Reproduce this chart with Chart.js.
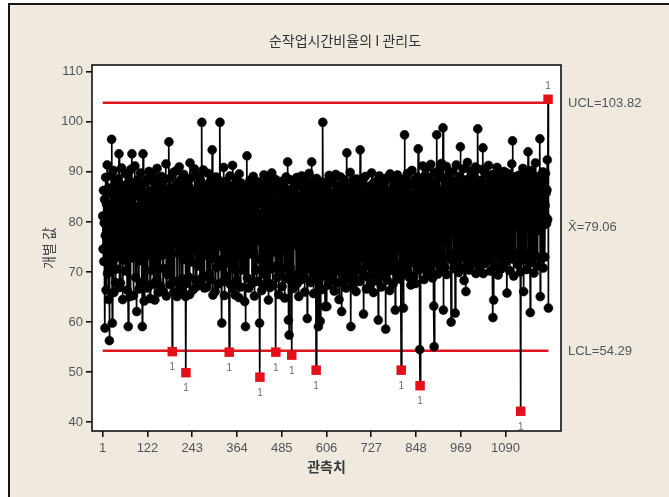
<!DOCTYPE html>
<html>
<head>
<meta charset="utf-8">
<script src="https://cdn.jsdelivr.net/npm/chart.js@4.4.1/dist/chart.umd.min.js"></script>
<style>
  html, body { margin: 0; padding: 0; background: #ffffff; }
  #wrap { position: absolute; left: 0; top: 0; width: 669px; height: 497px; }
  canvas { display: block; }
</style>
</head>
<body>
<div id="wrap"><canvas id="ichart" width="669" height="497"></canvas></div>
<script>
// Texts
const chartTitle = '순작업시간비율의 I 관리도';
const xAxisTitle = '관측치';
const yAxisTitle = '개별 값';

// Axis ticks
const xTickValues = [1, 122, 243, 364, 485, 606, 727, 848, 969, 1090];
const yTickValues = [40, 50, 60, 70, 80, 90, 100, 110];

// Control limits
const upperLimit = 103.82;
const centerValue = 79.06;
const lowerLimit = 54.29;
const limitLabels = ['UCL=103.82', 'X\u0304=79.06', 'LCL=54.29'];

// Individual observations, in order (20 per row)
const individualValues = [
  81.2, 74.6, 86.3, 72.1, 79.8, 84.5, 58.8, 77.3, 88.9, 66.4, 83.6, 75.2, 91.4, 69.7, 80.9, 86.8, 64.5, 82.4, 56.3, 78.1,
  76.9, 85.7, 71.3, 89.2, 96.5, 74.8, 59.8, 82.6, 77.4, 90.3, 65.9, 84.1, 79.5, 72.7, 87.6, 67.9, 81.8, 70.6, 86.4, 78.2,
  83.4, 73.1, 88.7, 76.5, 93.6, 66.9, 80.3, 85.2, 67.8, 82.9, 77.6, 90.8, 74.2, 84.7, 64.5, 79.1, 87.3, 72.4, 81.6, 76.8,
  85.9, 70.2, 78.7, 89.6, 74.3, 82.1, 66.4, 86.5, 77.9, 59.1, 80.6, 88.2, 73.6, 83.8, 65.1, 79.4, 90.5, 75.7, 84.3, 93.6,
  72.8, 81.4, 87.1, 65.3, 79.9, 85.4, 74.5, 91.2, 77.2, 68.9, 83.1, 76.3, 62.1, 82.7, 88.4, 73.9, 80.2, 86.1, 66.6, 78.6,
  84.9, 75.4, 89.8, 72.3, 81.1, 67.8, 86.9, 59.1, 80.7, 93.6, 74.1, 83.3, 64.2, 87.8, 78.9, 73.2, 85.6, 79.6, 67.5, 82.3,
  76.1, 88.6, 66.8, 84.2, 79.3, 90.1, 73.4, 81.9, 64.7, 86.2, 77.1, 83.9, 70.3, 89.4, 75.3, 80.8, 85.1, 67.6, 87.9, 78.4,
  82.5, 64.4, 79.2, 88.1, 74.7, 84.6, 68.4, 90.7, 76.6, 81.3, 65.9, 86.7, 78.3, 73.8, 85.8, 80.1, 67.2, 83.5, 77.7, 89.1,
  73.3, 81.7, 87.4, 66.1, 82.8, 70.7, 88.3, 79.7, 74.4, 84.8, 78.8, 91.6, 65.2, 80.4, 86.6, 76.4, 83.2, 69.4, 85.3, 96.0,
  77.5, 83.7, 67.5, 88.8, 79.0, 74.9, 86.0, 80.5, 54.1, 82.0, 76.7, 89.9, 66.0, 84.4, 68.1, 81.5, 87.2, 75.6, 90.2, 78.5,
  84.0, 65.1, 80.0, 87.7, 73.7, 82.2, 77.0, 91.0, 67.0, 85.5, 79.8, 74.0, 88.5, 66.2, 83.0, 68.6, 86.8, 81.0, 72.5, 89.5,
  75.0, 82.4, 78.0, 86.3, 65.1, 49.9, 79.5, 84.9, 67.7, 88.0, 76.0, 83.6, 69.0, 87.0, 80.3, 65.5, 91.8, 77.3, 85.0, 72.0,
  81.2, 88.9, 74.3, 80.6, 85.7, 66.5, 83.4, 78.9, 90.6, 75.5, 82.1, 68.4, 86.4, 79.1, 67.1, 89.3, 77.5, 84.2, 71.2, 87.5,
  76.4, 83.0, 80.9, 67.8, 88.2, 74.6, 85.2, 79.3, 99.9, 68.9, 81.6, 77.0, 90.4, 75.8, 84.5, 66.8, 87.1, 78.2, 82.8, 73.4,
  86.1, 79.9, 67.0, 84.0, 77.7, 89.7, 74.0, 82.6, 69.6, 87.9, 80.1, 68.4, 85.9, 72.7, 88.6, 78.6, 94.4, 76.1, 65.4, 83.2,
  79.4, 87.3, 73.7, 84.1, 66.1, 81.8, 89.0, 76.9, 83.5, 70.9, 86.5, 80.0, 67.6, 88.4, 77.2, 82.3, 75.1, 99.9, 78.8, 85.4,
  72.4, 80.7, 59.8, 86.9, 77.4, 83.8, 68.1, 90.9, 79.2, 65.3, 84.7, 76.5, 88.1, 81.4, 69.2, 87.6, 78.3, 71.9, 85.6, 80.2,
  83.1, 76.8, 54.0, 82.5, 89.2, 67.5, 80.4, 86.2, 71.4, 84.3, 78.1, 91.3, 66.7, 81.9, 70.6, 87.4, 79.6, 73.9, 65.4, 85.1,
  77.9, 88.7, 68.3, 83.9, 79.0, 86.0, 74.2, 81.0, 64.9, 89.6, 76.3, 84.6, 80.8, 67.0, 87.8, 78.4, 82.9, 70.4, 85.8, 75.9,
  81.3, 87.0, 74.8, 79.7, 64.1, 83.7, 59.1, 85.3, 76.6, 82.0, 93.2, 68.8, 80.5, 86.6, 77.8, 66.8, 84.8, 78.0, 88.3, 73.6,
  82.7, 75.3, 86.8, 79.1, 67.8, 84.4, 77.6, 89.1, 73.8, 81.5, 65.2, 85.0, 78.5, 83.3, 70.4, 87.2, 80.6, 68.1, 86.3, 76.7,
  84.1, 78.2, 88.0, 72.6, 59.8, 49.0, 81.7, 76.1, 85.5, 79.4, 66.3, 83.6, 87.5, 70.7, 80.9, 77.3, 89.4, 67.5, 82.4, 75.6,
  86.7, 79.8, 69.3, 84.9, 77.1, 88.8, 68.0, 81.2, 64.4, 85.7, 78.7, 83.0, 66.9, 87.3, 76.0, 80.3, 70.6, 89.8, 79.3, 83.8,
  67.3, 84.2, 77.9, 86.9, 74.0, 82.1, 79.6, 88.5, 54.0, 80.8, 71.2, 85.4, 68.9, 87.7, 78.0, 83.4, 65.5, 81.9, 76.4, 86.0,
  80.0, 69.7, 88.1, 77.6, 82.8, 67.1, 85.1, 79.0, 74.3, 87.0, 76.9, 83.1, 64.8, 84.7, 80.4, 71.0, 89.0, 78.3, 68.7, 85.9,
  92.0, 77.0, 60.4, 83.5, 57.4, 79.7, 86.4, 70.9, 81.1, 88.4, 68.2, 53.4, 80.2, 85.6, 76.2, 82.6, 66.7, 87.9, 78.6, 84.0,
  75.3, 81.4, 86.8, 69.4, 79.2, 88.9, 67.7, 83.9, 77.4, 85.2, 65.1, 82.3, 79.9, 70.1, 87.4, 76.8, 84.3, 68.5, 89.2, 80.7,
  78.1, 84.8, 69.0, 87.1, 76.5, 81.6, 66.0, 85.8, 79.5, 83.2, 70.7, 88.2, 77.2, 60.7, 82.9, 86.1, 71.5, 80.1, 89.7, 68.3,
  83.7, 78.8, 86.5, 67.9, 80.5, 92.0, 70.4, 84.5, 77.7, 81.8, 65.7, 87.6, 79.1, 71.8, 85.3, 69.1, 82.5, 50.4, 88.7, 76.3,
  81.0, 86.2, 70.2, 59.1, 83.4, 77.5, 88.1, 68.8, 60.2, 80.9, 85.0, 76.7, 82.2, 66.5, 87.2, 99.9, 78.4, 84.6, 69.8, 81.5,
  86.9, 63.1, 79.8, 84.3, 71.9, 88.0, 63.1, 82.7, 77.0, 85.5, 67.4, 80.3, 89.3, 70.3, 83.1, 78.9, 87.8, 68.4, 81.7, 76.6,
  84.4, 79.3, 69.5, 88.6, 76.4, 82.4, 66.2, 86.0, 80.5, 71.1, 89.5, 77.8, 83.0, 67.8, 85.9, 79.0, 70.8, 87.3, 81.3, 64.5,
  85.2, 77.4, 82.0, 89.0, 70.0, 80.6, 62.1, 86.6, 78.2, 83.6, 68.0, 87.5, 76.0, 81.1, 88.4, 69.7, 84.7, 79.7, 66.8, 85.6,
  93.8, 78.5, 84.0, 68.7, 80.8, 87.0, 71.7, 82.8, 77.3, 89.9, 70.6, 59.1, 83.3, 79.4, 86.3, 67.3, 81.4, 88.2, 72.2, 84.9,
  69.0, 80.0, 86.7, 77.8, 83.8, 66.1, 88.6, 79.2, 71.3, 85.1, 81.7, 70.5, 87.9, 78.0, 82.6, 68.1, 94.4, 80.7, 72.9, 85.7,
  79.1, 84.2, 70.0, 88.3, 77.5, 61.6, 82.1, 86.4, 69.2, 80.3, 89.1, 72.1, 83.5, 66.6, 85.4, 78.7, 81.9, 71.4, 87.1, 68.9,
  83.9, 77.1, 86.8, 80.2, 67.5, 85.3, 78.3, 89.8, 70.7, 82.0, 72.6, 87.7, 65.9, 84.1, 79.5, 69.6, 88.0, 81.2, 71.8, 86.2,
  78.6, 84.6, 68.2, 87.4, 80.1, 60.4, 83.2, 72.3, 89.2, 70.1, 81.6, 85.8, 77.6, 67.0, 88.5, 79.9, 82.7, 71.2, 86.5, 69.4,
  84.8, 79.0, 87.9, 70.9, 81.3, 58.6, 85.6, 77.2, 83.0, 68.4, 88.9, 80.4, 71.6, 86.1, 78.1, 82.3, 66.3, 89.6, 72.8, 84.3,
  80.9, 70.3, 86.6, 78.4, 83.7, 67.6, 88.4, 76.9, 82.5, 79.6, 85.2, 62.4, 81.8, 87.3, 69.9, 84.0, 77.4, 89.4, 71.0, 82.9,
  86.3, 78.0, 83.4, 68.6, 88.2, 80.6, 71.5, 50.4, 84.5, 79.3, 87.0, 69.5, 82.2, 62.8, 85.9, 77.9, 97.4, 81.5, 70.6, 88.8,
  79.7, 85.0, 72.4, 83.1, 89.7, 70.2, 81.0, 86.9, 78.8, 68.9, 84.9, 80.2, 87.6, 67.4, 82.6, 73.0, 90.3, 71.9, 83.8, 79.4,
  85.4, 69.1, 88.3, 80.8, 72.2, 84.2, 67.7, 87.2, 79.0, 82.9, 71.0, 89.0, 77.7, 94.6, 81.9, 70.4, 86.4, 54.5, 47.3, 83.6,
  78.2, 88.1, 70.8, 84.4, 80.5, 91.2, 72.5, 82.4, 87.5, 68.5, 85.7, 79.2, 89.3, 71.7, 83.1, 81.2, 90.8, 69.8, 86.2, 78.9,
  84.7, 77.8, 88.8, 70.1, 82.8, 86.3, 79.9, 91.5, 71.3, 83.9, 80.0, 87.8, 68.8, 85.5, 78.6, 63.2, 55.1, 84.1, 89.9, 72.7,
  81.7, 87.1, 71.8, 97.4, 79.5, 84.8, 69.6, 88.9, 82.1, 73.6, 90.4, 80.9, 86.0, 70.5, 83.4, 79.1, 91.7, 72.4, 85.3, 81.0,
  98.8, 62.4, 84.6, 78.7, 88.5, 71.0, 82.7, 86.8, 80.3, 91.1, 69.5, 84.0, 79.8, 87.4, 72.9, 83.2, 89.6, 73.3, 85.8, 81.4,
  87.9, 79.4, 60.0, 84.3, 72.3, 90.0, 82.0, 78.5, 86.7, 70.7, 88.2, 80.7, 83.6, 61.8, 85.1, 73.9, 91.4, 81.6, 71.6, 87.0,
  80.1, 86.5, 69.9, 84.9, 79.0, 89.1, 72.8, 95.0, 82.3, 74.3, 87.3, 70.8, 85.0, 80.9, 90.6, 73.5, 83.7, 68.3, 88.4, 79.6,
  85.6, 81.0, 66.1, 87.7, 78.8, 83.3, 91.9, 72.0, 84.5, 80.2, 88.6, 70.4, 82.9, 86.2, 79.3, 90.2, 71.4, 83.9, 81.8, 87.1,
  73.1, 84.2, 89.4, 80.4, 71.9, 86.4, 82.5, 78.9, 91.0, 69.7, 85.2, 81.3, 88.0, 72.6, 98.6, 83.0, 79.7, 87.5, 70.9, 84.6,
  81.9, 88.3, 73.4, 85.4, 80.0, 90.5, 72.2, 83.5, 94.8, 69.7, 86.9, 79.1, 84.7, 89.8, 71.7, 82.4, 87.6, 74.6, 85.9, 80.6,
  86.1, 74.1, 83.8, 91.3, 72.5, 85.0, 80.8, 88.7, 70.2, 84.0, 79.5, 87.2, 82.2, 73.0, 89.5, 60.9, 83.1, 64.4, 86.6, 81.1,
  73.7, 88.0, 82.6, 71.1, 86.3, 80.3, 90.9, 74.4, 84.4, 69.4, 87.8, 81.5, 85.7, 72.8, 89.2, 79.8, 83.3, 70.6, 88.1, 82.0,
  85.3, 79.2, 87.4, 71.3, 83.6, 90.1, 74.0, 84.8, 81.2, 88.9, 72.1, 82.8, 86.0, 65.8, 80.5, 89.7, 73.6, 84.1, 79.9, 87.0,
  70.3, 85.8, 81.7, 88.4, 74.7, 83.1, 91.6, 72.6, 96.2, 80.8, 86.7, 69.2, 84.3, 79.0, 89.0, 82.7, 73.3, 85.6, 80.4, 87.9,
  79.4, 86.2, 71.5, 83.8, 89.3, 73.8, 84.6, 81.4, 88.2, 70.0, 42.2, 85.1, 80.1, 87.5, 72.4, 82.9, 90.7, 74.2, 66.1, 84.8,
  81.8, 87.7, 72.9, 85.2, 79.8, 89.4, 70.5, 83.4, 86.9, 80.0, 94.0, 73.5, 84.2, 88.6, 71.8, 82.3, 61.9, 86.1, 79.3, 90.3,
  72.0, 84.5, 81.1, 88.8, 74.5, 85.9, 69.8, 83.0, 87.3, 80.6, 91.8, 73.2, 84.9, 79.1, 86.8, 71.2, 82.1, 89.1, 80.9, 85.5,
  78.3, 87.4, 96.6, 65.1, 83.7, 80.2, 88.5, 72.7, 85.0, 81.6, 90.0, 70.8, 84.0, 79.4, 87.9, 73.0, 83.3, 89.7, 81.0, 85.8,
  79.7, 86.4, 92.4, 80.5, 104.5, 62.8
];

// Chart data built from the arrays above
const observationPoints = individualValues.map((v, i) => ({ x: i + 1, y: v }));
const outOfControl = observationPoints.filter(p => p.y > upperLimit || p.y < lowerLimit);
const lastObs = individualValues.length;
const isOut = v => v > upperLimit || v < lowerLimit;

const FONT_NUM = '"Liberation Sans", Arial, sans-serif';
const FONT_KR = '"Noto Sans CJK KR", "Noto Sans", sans-serif';

const decorPlugin = {
  id: 'decor',
  beforeDraw(chart) {
    const { ctx, chartArea: a, width, height } = chart;
    ctx.save();
    ctx.fillStyle = '#ffffff';
    ctx.fillRect(0, 0, width, height);
    ctx.fillStyle = '#efe9df';
    ctx.fillRect(9, 4, width - 9, height - 4);
    ctx.strokeStyle = '#151515';
    ctx.lineWidth = 2;
    ctx.beginPath();
    ctx.moveTo(9, height);
    ctx.lineTo(9, 4);
    ctx.lineTo(width, 4);
    ctx.stroke();
    ctx.fillStyle = '#ffffff';
    ctx.fillRect(a.left, a.top, a.right - a.left, a.bottom - a.top);
    ctx.restore();
  },
  afterDatasetsDraw(chart) {
    const { ctx, chartArea: a, scales } = chart;
    ctx.save();
    // test-failure marks next to each out-of-control point
    ctx.fillStyle = '#6a6a6a';
    ctx.font = '10px ' + FONT_NUM;
    ctx.textAlign = 'center';
    ctx.textBaseline = 'middle';
    outOfControl.forEach(p => {
      const px = scales.x.getPixelForValue(p.x);
      const py = scales.y.getPixelForValue(p.y);
      ctx.fillText('1', px, p.y > upperLimit ? py - 13 : py + 16);
    });
    // plot frame
    ctx.strokeStyle = '#111111';
    ctx.lineWidth = 1.6;
    ctx.strokeRect(a.left, a.top, a.right - a.left, a.bottom - a.top);
    ctx.restore();
  },
  afterDraw(chart) {
    const { ctx, scales, chartArea: a } = chart;
    ctx.save();
    ctx.fillStyle = '#333333';
    ctx.textBaseline = 'middle';
    ctx.textAlign = 'center';
    ctx.font = '14px ' + FONT_KR;
    ctx.fillText(chartTitle, 345, 41);
    ctx.fillStyle = '#3a3a3a';
    ctx.font = 'bold 14px ' + FONT_KR;
    ctx.fillText(xAxisTitle, (a.left + a.right) / 2, 467);
    ctx.save();
    ctx.translate(49, 248);
    ctx.rotate(-Math.PI / 2);
    ctx.fillStyle = '#444444';
    ctx.font = '14px ' + FONT_KR;
    ctx.fillText(yAxisTitle, 0, 0);
    ctx.restore();
    // limit labels on the right
    ctx.fillStyle = '#555555';
    ctx.font = '13px ' + FONT_NUM;
    ctx.textAlign = 'left';
    [upperLimit, centerValue, lowerLimit].forEach((v, i) => {
      ctx.fillText(limitLabels[i], a.right + 7, scales.y.getPixelForValue(v) + 1);
    });
    ctx.restore();
  }
};

const lineSet = (value, color, order) => ({
  data: [{ x: 1, y: value }, { x: lastObs, y: value }],
  borderColor: color,
  borderWidth: 2.4,
  pointRadius: 0,
  fill: false,
  order
});

new Chart(document.getElementById('ichart'), {
  type: 'line',
  data: {
    datasets: [
      {
        data: outOfControl,
        showLine: false,
        pointStyle: 'rect',
        pointRadius: 6.7,
        pointBackgroundColor: '#e3101a',
        pointBorderColor: '#e3101a',
        pointBorderWidth: 0,
        order: 0
      },
      {
        data: observationPoints,
        borderColor: '#000000',
        borderWidth: 1.7,
        pointRadius: ctx => (ctx.raw && isOut(ctx.raw.y)) ? 0 : 4.5,
        pointBackgroundColor: '#000000',
        pointBorderColor: '#000000',
        pointBorderWidth: 0.5,
        tension: 0,
        order: 1
      },
      lineSet(upperLimit, '#dd1620', 2),
      lineSet(lowerLimit, '#dd1620', 2),
      lineSet(centerValue, '#1d9a3c', 3)
    ]
  },
  plugins: [decorPlugin],
  options: {
    responsive: false,
    animation: false,
    devicePixelRatio: 1,
    parsing: false,
    normalized: true,
    layout: { padding: { left: 0, top: 65, right: 108, bottom: 0 } },
    plugins: { legend: { display: false }, tooltip: { enabled: false }, title: { display: false } },
    scales: {
      x: {
        type: 'linear',
        min: -28,
        max: 1240,
        afterBuildTicks: s => { s.ticks = xTickValues.map(v => ({ value: v })); },
        afterFit: s => { s.height = 66; },
        ticks: {
          color: '#555555', font: { family: FONT_NUM, size: 13 }, padding: 4,
          maxRotation: 0, autoSkip: false, callback: v => String(v)
        },
        grid: { drawOnChartArea: false, drawTicks: true, tickLength: 6, color: '#111111', lineWidth: 1.6 },
        border: { display: false }
      },
      y: {
        type: 'linear',
        min: 38.25,
        max: 111.35,
        afterBuildTicks: s => { s.ticks = yTickValues.map(v => ({ value: v })); },
        afterFit: s => { s.width = 92; },
        ticks: { color: '#555555', font: { family: FONT_NUM, size: 13 }, padding: 3, callback: v => String(v) },
        grid: { drawOnChartArea: false, drawTicks: true, tickLength: 6, color: '#111111', lineWidth: 1.6 },
        border: { display: false }
      }
    }
  }
});
</script>
</body>
</html>
